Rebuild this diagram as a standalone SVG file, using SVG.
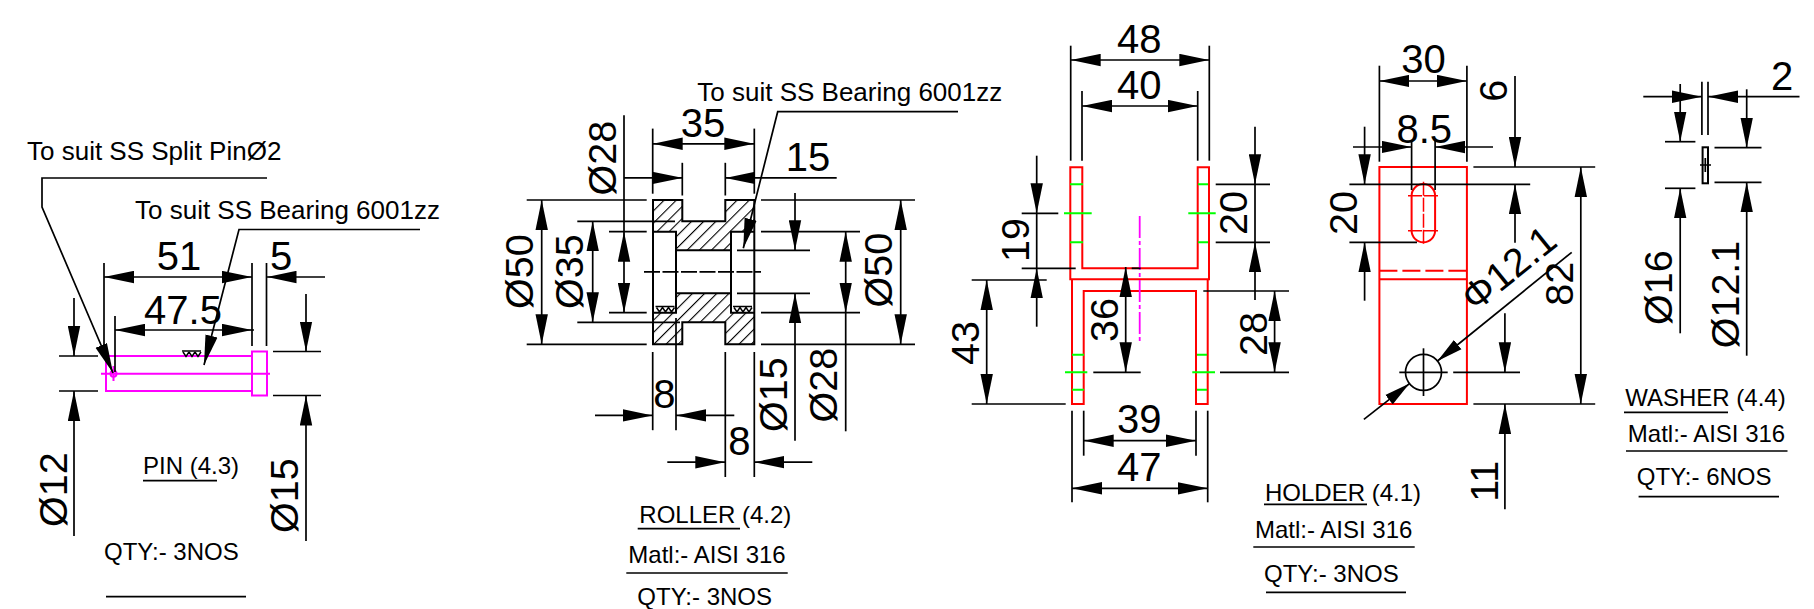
<svg xmlns="http://www.w3.org/2000/svg" width="1814" height="609" viewBox="0 0 1814 609">
<style>
text{font-family:"Liberation Sans",Arial,sans-serif;fill:#000}
.d{font-size:40px;text-anchor:middle}
.r{font-size:39.500px}
.l{font-size:24px}
.n{font-size:26px}
line,polyline,path,rect,circle{fill:none}
.k line,.k polyline{stroke:#000;stroke-width:1.7}
.a{marker-end:url(#ah)}
.b{marker-start:url(#ah);marker-end:url(#ah)}
.red{stroke:#f00;stroke-width:2}
.grn{stroke:#0f0;stroke-width:2}
.mag{stroke:#f0f;stroke-width:2}
.obj{stroke:#000;stroke-width:2}
.thin{stroke:#000;stroke-width:1.7}
</style>
<defs>
<marker id="ah" markerUnits="userSpaceOnUse" markerWidth="30" markerHeight="13" refX="30" refY="6.500" orient="auto-start-reverse"><path d="M0,0.300 L30,6.500 L0,12.700 Z" style="fill:#000"/></marker>
<marker id="as" markerUnits="userSpaceOnUse" markerWidth="26" markerHeight="13" refX="26" refY="6.500" orient="auto-start-reverse"><path d="M0,0.500 L26,6.500 L0,12.500 Z" style="fill:#000"/></marker>
<pattern id="hatch" patternUnits="userSpaceOnUse" width="8.600" height="8.600" patternTransform="rotate(45)"><line x1="0" y1="0" x2="0" y2="8.600" style="stroke:#000;stroke-width:2.200"/></pattern>
<g id="weld"><path d="M0,0 H19" style="stroke:#000;stroke-width:1.500"/><path d="M1,1 L4,5.500 L7,1 M7,1 L10,5.500 L13,1 M13,1 L16,5.500 L19,1" style="stroke:#000;stroke-width:1.500"/></g>
</defs>

<g id="pin" class="k">
<rect x="106" y="356" width="146" height="35" class="mag"/>
<rect x="252" y="351.500" width="15" height="44" class="mag"/>
<path class="mag" d="M101,373.700 H270 M113.500,366 V381"/>
<circle class="mag" cx="113.500" cy="373.700" r="3"/>
<use href="#weld" x="182" y="351"/>
<line x1="104" y1="263" x2="104" y2="355"/>
<line x1="252" y1="263" x2="252" y2="346"/>
<line x1="266.500" y1="263" x2="266.500" y2="346"/>
<line x1="115" y1="316" x2="115" y2="372"/>
<line class="b" x1="104" y1="277" x2="252" y2="277"/>
<line class="a" x1="325" y1="277" x2="266.500" y2="277"/>
<line class="b" x1="115" y1="330" x2="252" y2="330"/>
<line x1="252" y1="330" x2="254" y2="330"/>
<line x1="59" y1="356" x2="98" y2="356"/>
<line x1="59" y1="391" x2="98" y2="391"/>
<line class="a" x1="74" y1="298" x2="74" y2="356"/>
<line class="a" x1="74" y1="536" x2="74" y2="391"/>
<line x1="273" y1="351.500" x2="321" y2="351.500"/>
<line x1="273" y1="395.500" x2="321" y2="395.500"/>
<line class="a" x1="306" y1="294" x2="306" y2="351.500"/>
<line class="a" x1="306" y1="541" x2="306" y2="395.500"/>
<polyline class="a" points="267,178 42,178 42,207 113,373"/>
<polyline class="a" points="420,229.500 239,229.500 204,365"/>
<line x1="143" y1="480.700" x2="217" y2="480.700"/>
<line x1="106" y1="596.700" x2="246" y2="596.700"/>
<text class="n" x="27" y="160">To suit SS Split PinØ2</text>
<text class="n" x="135" y="219">To suit SS Bearing 6001zz</text>
<text class="d" x="179" y="270">51</text>
<text class="d" x="281" y="270">5</text>
<text class="d" x="183" y="324">47.5</text>
<text class="r" transform="translate(67,527) rotate(-90)">Ø12</text>
<text class="r" transform="translate(298,533) rotate(-90)">Ø15</text>
<text class="l" x="143" y="473.500">PIN (4.3)</text>
<text class="l" x="104" y="559.500">QTY:- 3NOS</text>
</g>

<g id="roller" class="k">
<path d="M653,200 H682.300 V221.300 H725.300 V200 H754.300 V231.700 H731 V250.300 H676 V231.700 H653 Z" style="fill:url(#hatch)"/>
<path d="M653,312.700 H676 V293.300 H731 V312.700 H754.300 V344.300 H725.300 V322.300 H682.300 V344.300 H653 Z" style="fill:url(#hatch)"/>
<path class="obj" d="M653,200 H682.300 V221.300 H725.300 V200 H754.300 V344.300 H725.300 V322.300 H682.300 V344.300 H653 Z"/>
<path class="obj" d="M653,231.700 H676 V312.700 H653 M754.300,231.700 H731 V312.700 H754.300 M676,250.300 H731 M676,293.300 H731"/>
<use href="#weld" x="655.500" y="306.500"/>
<use href="#weld" x="733" y="306.500"/>
<line x1="644" y1="271.800" x2="761" y2="271.800" stroke-dasharray="16 2.500"/>
<line x1="652.700" y1="128.600" x2="652.700" y2="193.700"/>
<line x1="754.300" y1="128.600" x2="754.300" y2="193.700"/>
<line x1="682.300" y1="162.800" x2="682.300" y2="195.500"/>
<line x1="725.300" y1="162.800" x2="725.300" y2="195.500"/>
<line class="b" x1="652.700" y1="143.800" x2="754.300" y2="143.800"/>
<line class="a" x1="624" y1="177.900" x2="682.300" y2="177.900"/>
<line class="a" x1="836.700" y1="177.900" x2="725.300" y2="177.900"/>
<polyline class="a" points="958,111.700 777.700,111.700 743.300,248.300"/>
<line class="b" x1="624" y1="231.700" x2="624" y2="312.700"/>
<line x1="624" y1="115.200" x2="624" y2="231.700"/>
<line class="b" x1="541.700" y1="200" x2="541.700" y2="344.300"/>
<line x1="526.700" y1="200" x2="646.700" y2="200"/>
<line x1="526.700" y1="344.300" x2="646.700" y2="344.300"/>
<line x1="761" y1="200" x2="915" y2="200"/>
<line x1="761" y1="344.300" x2="915" y2="344.300"/>
<line class="b" x1="592.700" y1="221.300" x2="592.700" y2="322.300"/>
<line x1="577.300" y1="221.300" x2="675" y2="221.300"/>
<line x1="577.300" y1="322.300" x2="680" y2="322.300"/>
<line x1="609" y1="231.700" x2="646.700" y2="231.700"/>
<line x1="609" y1="312.700" x2="646.700" y2="312.700"/>
<line class="b" x1="900.700" y1="200" x2="900.700" y2="344.300"/>
<line x1="761" y1="231.700" x2="860" y2="231.700"/>
<line x1="761" y1="312.700" x2="860" y2="312.700"/>
<line class="b" x1="845.700" y1="231.700" x2="845.700" y2="312.700"/>
<line x1="845.700" y1="312.700" x2="845.700" y2="431.300"/>
<line x1="737" y1="250.300" x2="810" y2="250.300"/>
<line x1="737" y1="293.300" x2="810" y2="293.300"/>
<line class="a" x1="795" y1="193" x2="795" y2="250.300"/>
<line class="a" x1="795" y1="440.800" x2="795" y2="293.300"/>
<line x1="652.700" y1="352" x2="652.700" y2="430.200"/>
<line x1="676" y1="318" x2="676" y2="430.200"/>
<line class="a" x1="595" y1="415.400" x2="652.700" y2="415.400"/>
<line class="a" x1="734.300" y1="415.400" x2="676" y2="415.400"/>
<line x1="725.300" y1="352" x2="725.300" y2="477"/>
<line x1="754.300" y1="352" x2="754.300" y2="477"/>
<line class="a" x1="667.300" y1="462.200" x2="725.300" y2="462.200"/>
<line class="a" x1="812.300" y1="462.200" x2="754.300" y2="462.200"/>
<line x1="637.700" y1="528.700" x2="740" y2="528.700"/>
<line x1="626.300" y1="573" x2="787.700" y2="573"/>
<text class="n" x="697.300" y="100.500">To suit SS Bearing 6001zz</text>
<text class="d" x="703" y="136.500">35</text>
<text class="d" x="808" y="170.500">15</text>
<text class="d" x="664.300" y="408">8</text>
<text class="d" x="739.300" y="454.500">8</text>
<text class="r" transform="translate(532.700,309) rotate(-90)">Ø50</text>
<text class="r" transform="translate(583.300,309) rotate(-90)">Ø35</text>
<text class="r" transform="translate(616,195.500) rotate(-90)">Ø28</text>
<text class="r" transform="translate(892.300,307.400) rotate(-90)">Ø50</text>
<text class="r" transform="translate(837.300,422.500) rotate(-90)">Ø28</text>
<text class="r" transform="translate(786.700,432) rotate(-90)">Ø15</text>
<text class="l" x="639.300" y="522.500">ROLLER (4.2)</text>
<text class="l" x="628.300" y="563.200">Matl:- AISI 316</text>
<text class="l" x="637.300" y="604.500">QTY:- 3NOS</text>
</g>

<g id="holder-front" class="k">
<path class="red" d="M1070.300,167.300 H1082.300 V268.300 H1197.700 V167.300 H1209 V279.300 H1070.300 Z"/>
<path class="red" d="M1072,279.300 V404 H1083.700 V291 H1196 V404 H1207.700 V279.300"/>
<path class="grn" d="M1070,184.300 H1083 M1064,213.300 H1091.700 M1070,242.300 H1083 M1198,184.300 H1208 M1188.300,213.300 H1215.700 M1198,242.300 H1208 M1072,354.700 H1084 M1065,372.300 H1087.300 M1072,389.700 H1084 M1197,354.700 H1207 M1192.300,372.300 H1215 M1197,389.700 H1207"/>
<path class="mag" d="M1139.700,216 V343.300" stroke-dasharray="22 3 4 3" style="stroke-width:1.800"/>
<line x1="1070.700" y1="45.700" x2="1070.700" y2="160.700"/>
<line x1="1209.300" y1="45.700" x2="1209.300" y2="160.700"/>
<line x1="1082" y1="91" x2="1082" y2="160.700"/>
<line x1="1197.700" y1="91" x2="1197.700" y2="160.700"/>
<line class="b" x1="1070.700" y1="60" x2="1209.300" y2="60"/>
<line class="b" x1="1082" y1="106" x2="1197.700" y2="106"/>
<line x1="1021.700" y1="213.300" x2="1058.300" y2="213.300"/>
<line x1="1021.700" y1="268.300" x2="1075.700" y2="268.300"/>
<line x1="1131.700" y1="268.300" x2="1140.700" y2="268.300"/>
<line class="a" x1="1036.700" y1="155.700" x2="1036.700" y2="213.300"/>
<line class="a" x1="1036.700" y1="326.700" x2="1036.700" y2="268.300"/>
<line x1="1036.700" y1="213.300" x2="1036.700" y2="268.300"/>
<line x1="971.700" y1="280" x2="1046.700" y2="280"/>
<line x1="971.700" y1="404" x2="1065.700" y2="404"/>
<line class="b" x1="986.700" y1="280" x2="986.700" y2="404"/>
<line x1="1093.300" y1="372.300" x2="1140.700" y2="372.300"/>
<line class="b" x1="1125.700" y1="267" x2="1125.700" y2="372.300"/>
<line x1="1215.700" y1="184.300" x2="1270" y2="184.300"/>
<line x1="1215.700" y1="242.300" x2="1270" y2="242.300"/>
<line class="a" x1="1255" y1="126.700" x2="1255" y2="184.300"/>
<line class="a" x1="1255" y1="300" x2="1255" y2="242.300"/>
<line x1="1255" y1="184.300" x2="1255" y2="242.300"/>
<line x1="1203.300" y1="291" x2="1289" y2="291"/>
<line x1="1220" y1="372.300" x2="1289" y2="372.300"/>
<line class="b" x1="1274.600" y1="291" x2="1274.600" y2="372.300"/>
<line x1="1072" y1="410.700" x2="1072" y2="502.300"/>
<line x1="1207.700" y1="410.700" x2="1207.700" y2="502.300"/>
<line x1="1083.700" y1="410.700" x2="1083.700" y2="455.700"/>
<line x1="1196" y1="410.700" x2="1196" y2="455.700"/>
<line class="b" x1="1083.700" y1="440.700" x2="1196" y2="440.700"/>
<line class="b" x1="1072" y1="488.300" x2="1207.700" y2="488.300"/>
<text class="d" x="1139.300" y="53">48</text>
<text class="d" x="1139.300" y="99">40</text>
<text class="d" x="1139.300" y="433">39</text>
<text class="d" x="1139.300" y="480.500">47</text>
<text class="r" transform="translate(1029.300,262) rotate(-90)">19</text>
<text class="r" transform="translate(979,365) rotate(-90)">43</text>
<text class="r" transform="translate(1118.300,342) rotate(-90)">36</text>
<text class="r" transform="translate(1246.700,235) rotate(-90)">20</text>
<text class="r" transform="translate(1267,356) rotate(-90)">28</text>
<text class="l" x="1265" y="500.700">HOLDER (4.1)</text>
<line x1="1264" y1="504.300" x2="1367" y2="504.300"/>
<text class="l" x="1255" y="538.300">Matl:- AISI 316</text>
<line x1="1253.300" y1="547" x2="1414.700" y2="547"/>
<text class="l" x="1264" y="581.700">QTY:- 3NOS</text>
<line x1="1266" y1="592.300" x2="1406" y2="592.300"/>
</g>

<g id="holder-side" class="k">
<rect class="red" x="1379.400" y="167" width="87.500" height="237"/>
<path class="red" d="M1379.400,279.300 H1466.900"/>
<path class="red" d="M1379.400,270.700 H1466.900" stroke-dasharray="18 5"/>
<rect class="red" x="1411.600" y="184" width="23.500" height="58.300" rx="11.700"/>
<path class="red" d="M1423.500,181.700 V245.700 M1408,195.700 H1438.700 M1408,230.700 H1438.700" style="stroke-width:1.500" stroke-dasharray="14 2"/>
<circle class="thin" cx="1423.500" cy="372.300" r="18"/>
<line x1="1399.300" y1="372.300" x2="1447.700" y2="372.300"/>
<line x1="1423.500" y1="348.300" x2="1423.500" y2="396"/>
<line x1="1379.400" y1="65.700" x2="1379.400" y2="161.700"/>
<line x1="1466.900" y1="65.700" x2="1466.900" y2="161.700"/>
<line class="b" x1="1379.400" y1="81" x2="1466.900" y2="81"/>
<line x1="1411.600" y1="140" x2="1411.600" y2="190"/>
<line x1="1435.100" y1="140" x2="1435.100" y2="190"/>
<line class="a" x1="1353" y1="147" x2="1411.600" y2="147"/>
<line class="a" x1="1493" y1="147" x2="1435.100" y2="147"/>
<line x1="1349.400" y1="184.300" x2="1530.200" y2="184.300"/>
<line x1="1349.400" y1="242.300" x2="1417" y2="242.300"/>
<line class="a" x1="1364.600" y1="126.700" x2="1364.600" y2="184.300"/>
<line class="a" x1="1364.600" y1="300.700" x2="1364.600" y2="242.300"/>
<line x1="1473.400" y1="167" x2="1595.200" y2="167"/>
<line x1="1473.400" y1="404" x2="1595.200" y2="404"/>
<line class="a" x1="1515" y1="76" x2="1515" y2="167"/>
<line class="a" x1="1515" y1="242.700" x2="1515" y2="184.300"/>
<line class="b" x1="1580.800" y1="167" x2="1580.800" y2="404"/>
<line x1="1453.200" y1="372.300" x2="1520" y2="372.300"/>
<line class="a" x1="1504.900" y1="313.300" x2="1504.900" y2="372.300"/>
<line class="a" x1="1504.900" y1="509.300" x2="1504.900" y2="404"/>
<line style="marker-end:url(#as)" x1="1363.900" y1="419.300" x2="1409.500" y2="383.600"/>
<line style="marker-end:url(#as)" x1="1571.700" y1="252.300" x2="1437.500" y2="361"/>
<text class="d" x="1423.500" y="73">30</text>
<text class="d" x="1424.200" y="142.500">8.5</text>
<text class="r" transform="translate(1357.400,235) rotate(-90)">20</text>
<text class="r" transform="translate(1507.400,101.700) rotate(-90)">6</text>
<text class="r" transform="translate(1572.800,305.700) rotate(-90)">82</text>
<text class="r" transform="translate(1497.600,501.700) rotate(-90)">11</text>
<text class="r" transform="translate(1475,313) rotate(-39)">Φ12.1</text>
</g>

<g id="washer" class="k">
<rect x="1702.600" y="147.300" width="5.400" height="36" class="obj"/>
<path class="thin" d="M1700,165 H1711 M1705.300,158 V172"/>
<line x1="1701.900" y1="81.700" x2="1701.900" y2="135"/>
<line x1="1708" y1="81.700" x2="1708" y2="135"/>
<line class="a" x1="1643.300" y1="96.700" x2="1701.900" y2="96.700"/>
<line class="a" x1="1799.500" y1="96.700" x2="1708" y2="96.700"/>
<line x1="1665" y1="141.700" x2="1695.400" y2="141.700"/>
<line x1="1665" y1="188.300" x2="1695.400" y2="188.300"/>
<line class="a" x1="1680.200" y1="84" x2="1680.200" y2="141.700"/>
<line class="a" x1="1680.200" y1="333.300" x2="1680.200" y2="188.300"/>
<line x1="1714.500" y1="147.700" x2="1761.500" y2="147.700"/>
<line x1="1714.500" y1="182.300" x2="1761.500" y2="182.300"/>
<line class="a" x1="1746.700" y1="89.300" x2="1746.700" y2="147.700"/>
<line class="a" x1="1746.700" y1="355.700" x2="1746.700" y2="182.300"/>
<text class="d" x="1782.100" y="89.500">2</text>
<text class="r" transform="translate(1671.900,325) rotate(-90)">Ø16</text>
<text class="r" transform="translate(1738.800,348.300) rotate(-90)">Ø12.1</text>
<text class="l" x="1625.200" y="405.700">WASHER (4.4)</text>
<line x1="1624" y1="412.300" x2="1728" y2="412.300"/>
<text class="l" x="1627.800" y="442.300">Matl:- AISI 316</text>
<line x1="1626" y1="451" x2="1787.500" y2="451"/>
<text class="l" x="1636.800" y="485">QTY:- 6NOS</text>
<line x1="1638.600" y1="496.700" x2="1779" y2="496.700"/>
</g>
</svg>
